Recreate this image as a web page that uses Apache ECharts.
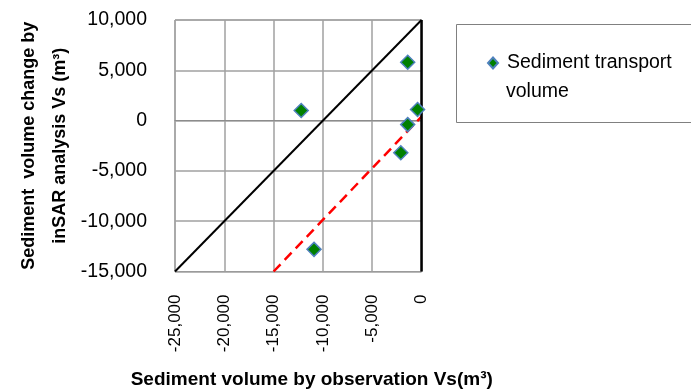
<!DOCTYPE html>
<html>
<head>
<meta charset="utf-8">
<script src="https://cdn.jsdelivr.net/npm/echarts@6/dist/echarts.min.js"></script>
<style>
html,body{margin:0;padding:0;background:#fff;}
#c{width:691px;height:391px;}
</style>
</head>
<body>
<div id="c"></div>
<script>
// Data
const obsVolume = [-1400, -12200, -400, -1400, -2100, -10900];   // x: observation Vs (m3)
const insarVolume = [5800, 1000, 1100, -400, -3200, -12800];     // y: InSAR Vs (m3)
const refLineX = [-25000, 0];       // black reference line
const refLineY = [-15000, 10000];
const fitLineX = [-15000, 0];       // red dashed line
const fitLineY = [-15000, 400];
const zeroLineX = [0, 0];           // black vertical line at x = 0
const zeroLineY = [-15000, 10000];
const xTicks = [-25000, -20000, -15000, -10000, -5000, 0];
const yTicks = [-15000, -10000, -5000, 0, 5000, 10000];
const seriesName = 'Sediment transport volume';

const font = "'Liberation Sans', Arial, sans-serif";
const fmt = v => Number(v).toLocaleString('en-US');
const pairs = (xs, ys) => xs.map((x, i) => [x, ys[i]]);

const chart = echarts.init(document.getElementById('c'), null, {renderer: 'canvas'});
chart.setOption({
  animation: false,
  backgroundColor: '#ffffff',
  grid: {left: 175, right: 269.5, top: 20, bottom: 119.5, show: true, borderColor: '#8c8c8c', borderWidth: 1,
         containLabel: false, outerBoundsMode: 'none'},
  xAxis: {
    type: 'value', min: xTicks[0], max: xTicks[xTicks.length - 1], interval: 5000,
    name: 'Sediment volume by observation Vs(m³)', nameLocation: 'middle', nameGap: 99,
    nameTextStyle: {fontFamily: font, fontSize: 19, fontWeight: 'bold', color: '#000', padding: [0, 0, 0, 27]},
    axisLine: {show: true, lineStyle: {color: '#8c8c8c', width: 1}},
    axisTick: {show: false},
    splitLine: {show: true, lineStyle: {color: '#a0a0a0', width: 1.5}},
    axisLabel: {rotate: 90, margin: 23, fontFamily: font, fontSize: 17, color: '#000', formatter: fmt}
  },
  yAxis: {
    type: 'value', min: yTicks[0], max: yTicks[yTicks.length - 1], interval: 5000,
    name: 'Sediment  volume change by\ninSAR analysis Vs (m³)', nameLocation: 'middle', nameGap: 99, nameRotate: 90,
    nameTextStyle: {fontFamily: font, fontSize: 18, fontWeight: 'bold', color: '#000', lineHeight: 31},
    axisLine: {show: true, lineStyle: {color: '#8c8c8c', width: 1}},
    axisTick: {show: false},
    splitLine: {show: true, lineStyle: {color: '#a0a0a0', width: 1.5}},
    axisLabel: {margin: 28, fontFamily: font, fontSize: 19.5, color: '#000', formatter: fmt}
  },
  legend: {
    left: 487, top: 53, padding: 0, itemWidth: 10, itemHeight: 11,
    data: [{name: seriesName, icon: 'diamond'}],
    formatter: () => 'Sediment transport',
    textStyle: {fontFamily: font, fontSize: 19.5, color: '#000', padding: [0, 0, 0, 4]}
  },
  graphic: [
    {type: 'rect', left: 454, top: 22, shape: {width: 250, height: 98}, style: {fill: 'none', stroke: '#808080', lineWidth: 1}},
    {type: 'text', left: 506, top: 82, style: {text: 'volume', fontFamily: font, fontSize: 19.5, fill: '#000'}}
  ],
  series: [
    {type: 'line', data: pairs(refLineX, refLineY), symbol: 'none', lineStyle: {color: '#000', width: 2}, silent: true, z: 2},
    {type: 'line', data: pairs(fitLineX, fitLineY), symbol: 'none', lineStyle: {color: '#ff0000', width: 2.5, type: [10, 6]}, silent: true, z: 2},
    {type: 'line', data: pairs(zeroLineX, zeroLineY), symbol: 'none', clip: false, lineStyle: {color: '#000', width: 2.5}, silent: true, z: 3},
    {
      name: seriesName, type: 'scatter', data: pairs(obsVolume, insarVolume),
      symbol: 'diamond', symbolSize: 14, z: 5,
      itemStyle: {color: '#008000', borderColor: '#4f81bd', borderWidth: 1.5, opacity: 1}
    }
  ]
});
</script>
</body>
</html>
